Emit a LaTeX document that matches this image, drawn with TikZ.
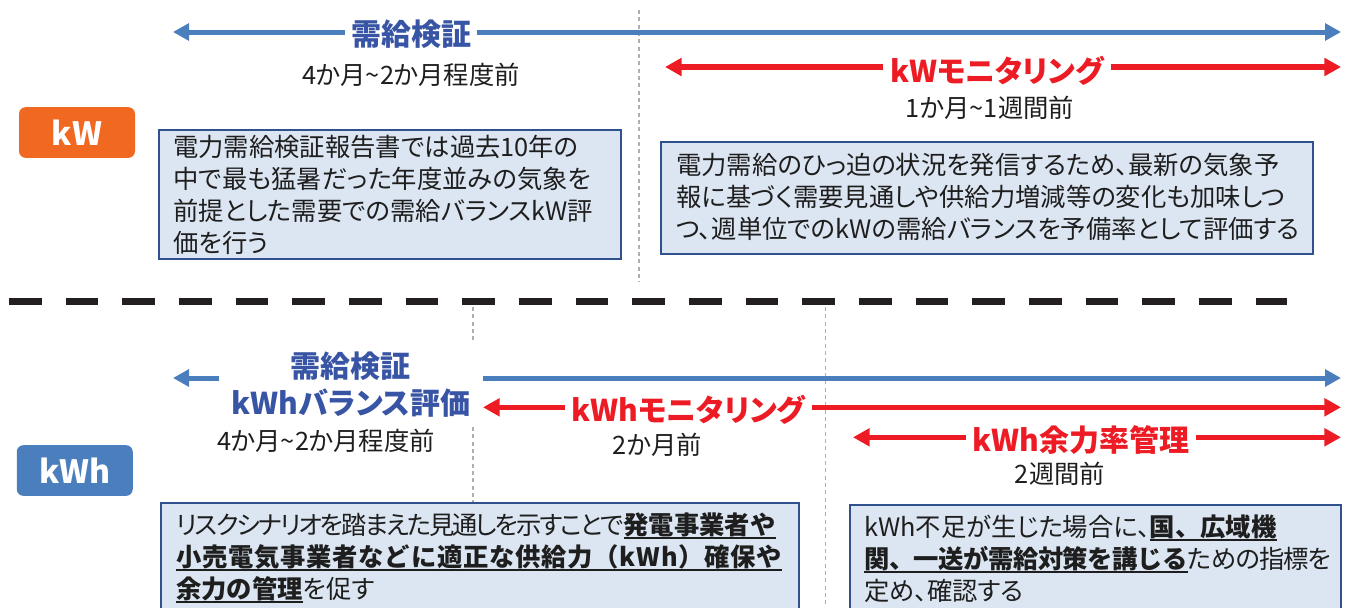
\documentclass[tikz,border=0pt]{standalone}
\usepackage{fontspec}
\setmainfont{Noto Sans CJK JP}[RawFeature=+palt]
\newfontfamily\jpfull{Noto Sans CJK JP}
\usetikzlibrary{arrows.meta,calc}
\definecolor{arrblue}{RGB}{74,126,189}
\definecolor{lblblue}{RGB}{56,84,164}
\definecolor{arrred}{RGB}{237,28,36}
\definecolor{kworange}{RGB}{241,104,33}
\definecolor{kwhblue}{RGB}{74,126,189}
\definecolor{boxfill}{RGB}{220,230,242}
\definecolor{boxline}{RGB}{47,82,143}
\definecolor{guide}{RGB}{175,175,175}
\definecolor{sepline}{RGB}{35,31,32}
\definecolor{txt}{RGB}{30,30,30}
\newcommand{\bul}[2][0]{\setbox0=\hbox{\jpfull\bfseries\addfontfeature{LetterSpace=#1}#2}\rlap{\rule[-3.75pt]{\wd0}{1.5pt}}\box0}
\newcommand{\tightjp}[2][-8]{{\addfontfeature{LetterSpace=#1}#2}}
\tikzset{
  bluearrow/.style={draw=arrblue, line width=3.75pt, -{Triangle[length=12pt,width=12.5pt]}},
  redarrow/.style={draw=arrred, line width=3.9pt, -{Triangle[length=12.5pt,width=13pt]}},
  bluelabel/.style={text=lblblue, font=\fontsize{22.5}{27}\selectfont\bfseries, inner xsep=4.5pt, inner ysep=0pt},
  redlabel/.style={text=arrred, font=\fontsize{22.5}{27}\selectfont\bfseries, inner xsep=5pt, inner ysep=0pt},
  sublabel/.style={text=txt, font=\fontsize{19}{24}\selectfont, inner sep=0pt},
  infobox/.style={draw=boxline, fill=boxfill, line width=1.4pt, anchor=north west, inner sep=0pt},
  infotext/.style={text=txt, font=\fontsize{19}{24}\selectfont, align=left, anchor=north west, inner sep=0pt},
  tagbox/.style={rounded corners=5pt, text=white, font=\fontsize{24}{28}\selectfont\bfseries, minimum width=87pt, minimum height=38pt, inner sep=0pt},
  guideline/.style={draw=guide, line width=1pt, dash pattern=on 3pt off 2.5pt},
  sepdash/.style={draw=sepline, line width=5.25pt, dash pattern=on 24.4pt off 18.1pt}
}
\begin{document}
\begin{tikzpicture}[x=0.75pt,y=-0.75pt]
\useasboundingbox (0,0) rectangle (1349,607);
\clip (0,0) rectangle (1349,607);

% guide lines
\draw[guideline] (639,10) -- (639,282);
\draw[guideline] (473,307) -- (473,340);
\draw[guideline] (473,427) -- (473,502);
\draw[guideline] (825.5,307) -- (825.5,607);

% separator
\draw[sepdash] (9,301) -- (1287,301);

% ===== kW section =====
\node[bluelabel] (kwcheck) at (411,34) {需給検証};
\coordinate (kwcheckL) at (173,32);
\coordinate (kwcheckR) at (1341,32);
\draw[bluearrow] (kwcheck.west |- kwcheckL) -- (kwcheckL);
\draw[bluearrow] (kwcheck.east |- kwcheckR) -- (kwcheckR);
\node[sublabel] (kwchecktime) at (411,75) {4か月\textasciitilde 2か月程度前};

\node[redlabel] (kwmon) at (997,71) {kWモニタリング};
\coordinate (kwmonL) at (665,67);
\coordinate (kwmonR) at (1341,67);
\draw[redarrow] (kwmon.west |- kwmonL) -- (kwmonL);
\draw[redarrow] (kwmon.east |- kwmonR) -- (kwmonR);
\node[sublabel] (kwmontime) at (990,108) {1か月\textasciitilde 1週間前};

\node[tagbox, fill=kworange] (kwtag) at (77,132.5) {kW};

\node[infobox, minimum width=346.5pt, minimum height=96.75pt] (boxA) at (158,129) {};
\node[infotext] (textA) at (173,135.3) {電力需給検証報告書では過去10年の\\中で最も猛暑だった年度並みの気象を\\前提とした需要での需給バランスkW評\\価を行う};

\node[infobox, minimum width=489pt, minimum height=84pt] (boxB) at (660,141) {};
\node[infotext] (textB) at (676,153.3) {電力需給のひっ迫の状況を発信するため、最新の気象予\\報に基づく需要見通しや供給力増減等の変化も加味しつ\\つ、週単位でのkWの需給バランスを予備率として評価する};

% ===== kWh section =====
\node[bluelabel] (kwhcheck) at (350,366.5) {需給検証};
\node[bluelabel, inner xsep=9pt] (kwhbal) at (351,403.5) {kWhバランス評価};
\coordinate (kwhcheckL) at (173,378);
\coordinate (kwhcheckR) at (1341,378);
\draw[bluearrow] (kwhbal.west |- kwhcheckL) -- (kwhcheckL);
\draw[bluearrow] (kwhbal.east |- kwhcheckR) -- (kwhcheckR);
\node[sublabel] (kwhchecktime) at (326,441) {4か月\textasciitilde 2か月程度前};

\node[redlabel] (kwhmon) at (688.5,410) {kWhモニタリング};
\coordinate (kwhmonL) at (483,407.3);
\coordinate (kwhmonR) at (1341,407.3);
\draw[redarrow] (kwhmon.west |- kwhmonL) -- (kwhmonL);
\draw[redarrow] (kwhmon.east |- kwhmonR) -- (kwhmonR);
\node[sublabel] (kwhmontime) at (657.5,445) {2か月前};

\node[redlabel] (kwhmargin) at (1081,440) {kWh余力率管理};
\coordinate (kwhmarginL) at (853,437.3);
\coordinate (kwhmarginR) at (1341,437.3);
\draw[redarrow] (kwhmargin.west |- kwhmarginL) -- (kwhmarginL);
\draw[redarrow] (kwhmargin.east |- kwhmarginR) -- (kwhmarginR);
\node[sublabel] (kwhmargintime) at (1060,473.5) {2週間前};

\node[tagbox, fill=kwhblue] (kwhtag) at (74.75,470.5) {kWh};

\node[infobox, minimum width=478.5pt, minimum height=97.5pt] (boxC) at (160,502) {};
\node[infotext] (textC) at (176,512.3) {\tightjp{リスクシナリオを踏まえた見通しを示すことで}\bul{発電事業者や}\\\bul[3]{小売電気事業者などに適正な供給力（kWh）確保や}\\\bul{余力の管理}を促す};

\node[infobox, minimum width=368.25pt, minimum height=97.5pt] (boxD) at (849,504) {};
\node[infotext] (textD) at (864,514.3) {kWh不足が生じた場合に、\bul{国、広域機}\\\bul[-2]{関、一送が需給対策を講じる}\tightjp[-3]{ための指標を}\\定め、確認する};
\end{tikzpicture}
\end{document}
